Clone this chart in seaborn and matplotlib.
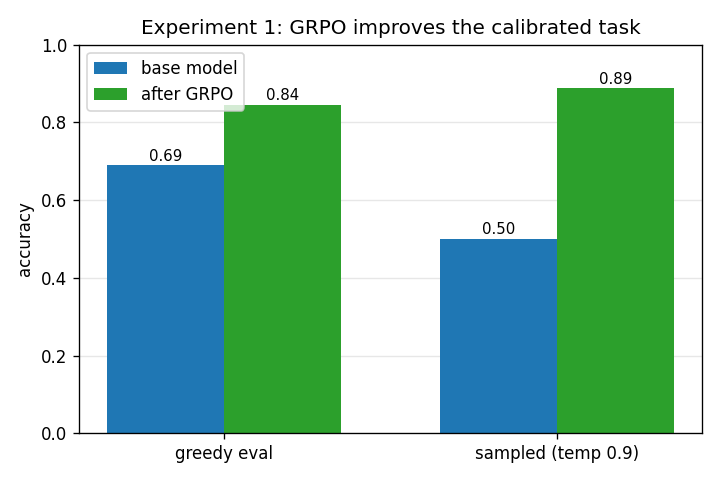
import matplotlib
matplotlib.use("Agg")
import matplotlib.pyplot as plt
import seaborn as sns
import pandas as pd

conditions = ["greedy eval", "sampled (temp 0.9)"]
series = ["base model", "after GRPO"]
base_vals = [0.689, 0.501]
grpo_vals = [0.845, 0.887]
colors = ["#1f77b4", "#2ca02c"]

df = pd.DataFrame({
    "condition": conditions * 2,
    "model": [series[0]] * 2 + [series[1]] * 2,
    "accuracy": base_vals + grpo_vals,
})

fig, ax = plt.subplots(figsize=(6, 4), dpi=120)
sns.barplot(data=df, x="condition", y="accuracy", hue="model",
            palette=colors, width=0.7, ax=ax, saturation=1,
            order=conditions, hue_order=series)
for c in ax.containers:
    ax.bar_label(c, labels=[f"{v:.2f}" for v in c.datavalues], fontsize=9, padding=1)
ax.set_ylim(0, 1.0)
ax.set_xlim(-0.435, 1.435)
ax.set_xlabel("")
ax.set_ylabel("accuracy")
ax.set_title("Experiment 1: GRPO improves the calibrated task")
ax.yaxis.grid(True, alpha=0.3)
ax.set_axisbelow(True)
ax.legend(title=None, loc="upper left")
fig.subplots_adjust(left=79/720, right=702/720, top=1-44.5/480, bottom=1-433.3/480)
fig.savefig("out.png", dpi=120)
